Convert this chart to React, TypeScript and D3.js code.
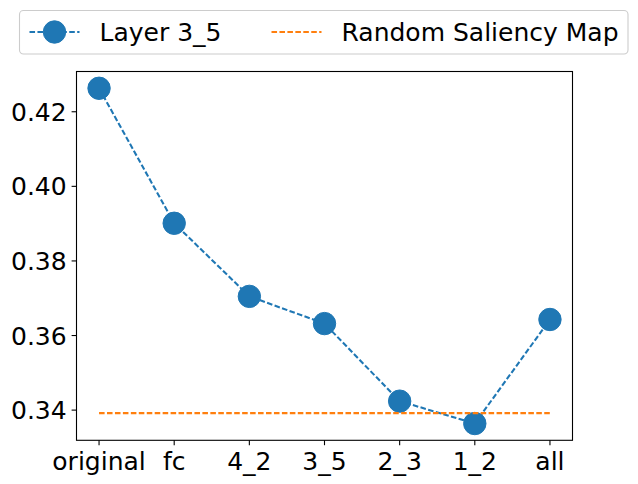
import React from "react";
import * as d3 from "d3";

const categories = ["original", "fc", "4_2", "3_5", "2_3", "1_2", "all"];
const layerValues = [0.4263, 0.3901, 0.3705, 0.3632, 0.3424, 0.3364, 0.3643];
const randomValue = 0.3392;
const yTicks = [0.34, 0.36, 0.38, 0.4, 0.42];
const seriesNames = ["Layer 3_5", "Random Saliency Map"];

const W = 638;
const H = 484;
const left = 76.5;
const right = 572.5;
const top = 71.5;
const bottom = 440.3;
const FONT = "DejaVu Sans, sans-serif";
const FS = 25;
const BLUE = "#1f77b4";
const ORANGE = "#ff7f0e";

export default function App() {
  const n = categories.length;
  const xs = d3
    .scaleLinear()
    .domain([-0.05 * (n - 1), (n - 1) * 1.05])
    .range([left, right]);
  const allVals = [...layerValues, randomValue];
  const mn = d3.min(allVals)!;
  const mx = d3.max(allVals)!;
  const pad = (mx - mn) * 0.05;
  const ys = d3.scaleLinear().domain([mn - pad, mx + pad]).range([bottom, top]);

  const line = d3
    .line<number>()
    .x((_, i) => xs(i))
    .y((d) => ys(d));

  const dash = "5.55,2.4";

  return (
    <svg width={W} height={H} style={{ display: "block", position: "absolute", left: 0, top: 0 }} fontFamily={FONT}>
      <rect width={W} height={H} fill="#fff" />
      {/* series */}
      <path d={line(layerValues) || ""} fill="none" stroke={BLUE} strokeWidth={2.08} strokeDasharray={dash} />
      {layerValues.map((v, i) => (
        <circle key={i} cx={xs(i)} cy={ys(v)} r={11.2} fill={BLUE} stroke={BLUE} strokeWidth={1} />
      ))}
      <line x1={xs(0)} x2={xs(n - 1)} y1={ys(randomValue)} y2={ys(randomValue)} stroke={ORANGE} strokeWidth={2.08} strokeDasharray={dash} />
      {/* frame */}
      <rect x={left} y={top} width={right - left} height={bottom - top} fill="none" stroke="#000" strokeWidth={1.1} />
      {/* y ticks */}
      {yTicks.map((t) => (
        <g key={t}>
          <line x1={left - 4.9} x2={left} y1={ys(t)} y2={ys(t)} stroke="#000" strokeWidth={1.1} />
          <text x={left - 9.8} y={ys(t) + 9.1} textAnchor="end" fontSize={FS} fill="#000">
            {d3.format(".2f")(t)}
          </text>
        </g>
      ))}
      {/* x ticks */}
      {categories.map((c, i) => (
        <g key={c}>
          <line x1={xs(i)} x2={xs(i)} y1={bottom} y2={bottom + 4.9} stroke="#000" strokeWidth={1.1} />
          <text x={xs(i)} y={469.5} textAnchor="middle" fontSize={FS} fill="#000">
            {c}
          </text>
        </g>
      ))}
      {/* legend */}
      <rect x={19.5} y={10.5} width={608.5} height={43.5} rx={4} fill="#fff" fillOpacity={0.8} stroke="#cccccc" strokeWidth={1.1} />
      <line x1={29.5} x2={79.5} y1={32} y2={32} stroke={BLUE} strokeWidth={2.08} strokeDasharray={dash} />
      <circle cx={54.5} cy={32} r={11.2} fill={BLUE} stroke={BLUE} strokeWidth={1} />
      <text x={99.5} y={40.5} fontSize={FS} fill="#000">{seriesNames[0]}</text>
      <line x1={271.5} x2={321.5} y1={32} y2={32} stroke={ORANGE} strokeWidth={2.08} strokeDasharray={dash} />
      <text x={341.5} y={40.5} fontSize={FS} fill="#000">{seriesNames[1]}</text>
    </svg>
  );
}
